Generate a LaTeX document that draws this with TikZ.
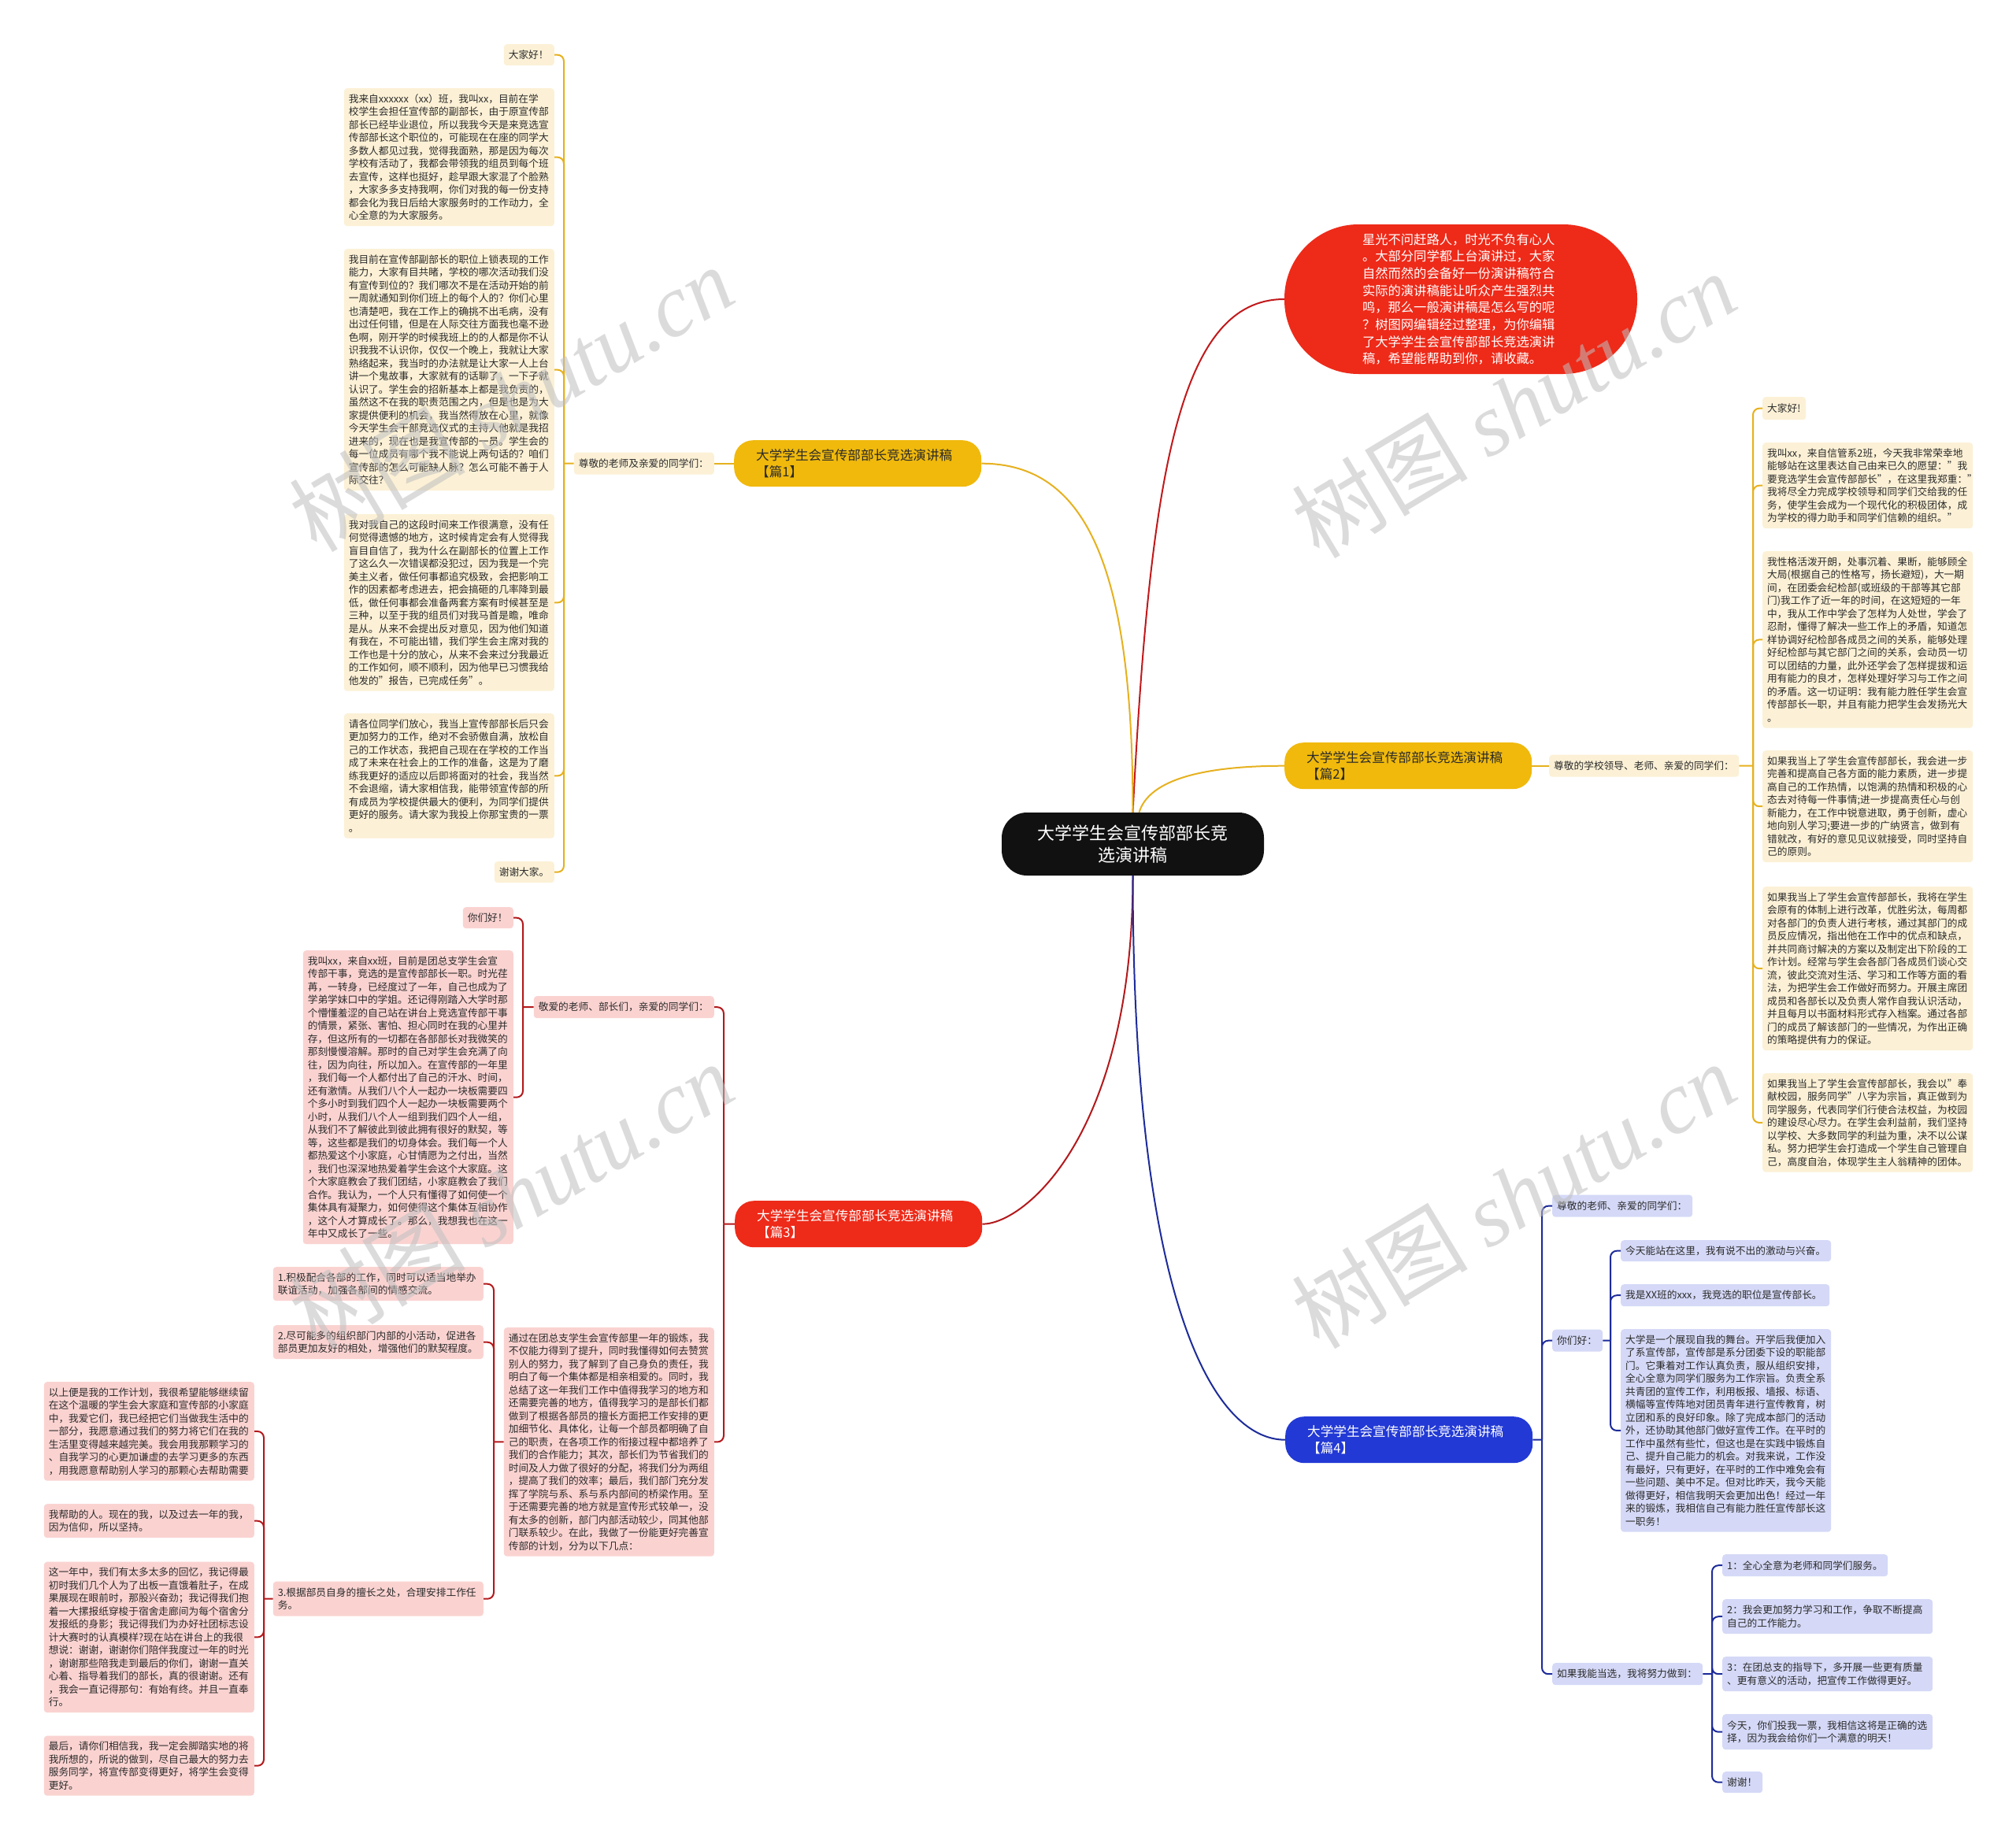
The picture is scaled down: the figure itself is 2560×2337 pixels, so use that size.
\documentclass[tikz,border=0pt]{standalone}
\usepackage{fontspec}
\setmainfont{Noto Sans CJK SC}
\newfontfamily\wmlatin{Liberation Serif}
\definecolor{txt}{HTML}{2B2B2B}
\definecolor{yN}{HTML}{F0B90C}
\definecolor{yL}{HTML}{E6B11F}
\definecolor{cream}{HTML}{FCF1D6}
\definecolor{rN}{HTML}{EE2A19}
\definecolor{rL}{HTML}{B3191C}
\definecolor{tL}{HTML}{C1191B}
\definecolor{pinkL}{HTML}{FAD3D1}
\definecolor{bN}{HTML}{2239D5}
\definecolor{bL}{HTML}{1D2C9A}
\definecolor{lavL}{HTML}{D5D9F7}
\definecolor{rootC}{HTML}{111111}
\begin{document}
\begin{tikzpicture}[x=1pt,y=-1pt,
  base/.style={inner xsep=6pt, inner ysep=1pt, align=left, font=\fontsize{12.7}{16.5}\selectfont, text=txt, rounded corners=4pt},
  cy/.style={base, fill=cream},
  cr/.style={base, fill=pinkL},
  cb/.style={base, fill=lavL},
  para/.style={text width=255pt},
  branch/.style={anchor=north west, rounded corners=24pt, minimum width=314pt, minimum height=59pt, text width=258pt, inner xsep=28pt, align=left, font=\fontsize{16.6}{21}\selectfont},
  ly/.style={draw=yL, line width=2pt},
  lr/.style={draw=rL, line width=2pt},
  lb/.style={draw=bL, line width=2pt},
  rc/.style={rounded corners=8pt},
  wm/.style={rotate=31, text=gray!50, opacity=0.55, font=\fontsize{112}{112}\selectfont}
]
\useasboundingbox (0,0) rectangle (2560,2337);
\fill[white] (0,0) rectangle (2560,2337);

% ---------- root and main branches ----------
\node[fill=rootC, text=white, rounded corners=32pt, minimum width=333pt, minimum height=80pt, align=center, font=\fontsize{22}{28.7}\selectfont] (root) at (1438.5,1072) {大学学生会宣传部部长竞\\选演讲稿};

\node[fill=rN, text=white, rounded corners=94pt, minimum width=448pt, minimum height=190pt, text width=250pt, align=left, font=\fontsize{16.3}{21.7}\selectfont] (T) at (1855,380) {星光不问赶路人，时光不负有心人\\。大部分同学都上台演讲过，大家\\自然而然的会备好一份演讲稿符合\\实际的演讲稿能让听众产生强烈共\\鸣，那么一般演讲稿是怎么写的呢\\？树图网编辑经过整理，为你编辑\\了大学学生会宣传部部长竞选演讲\\稿，希望能帮助到你，请收藏。};

\node[branch, fill=yN, text=txt] (B1) at (932,559) {大学学生会宣传部部长竞选演讲稿\\【篇1】};
\node[branch, fill=yN, text=txt] (B2) at (1631,943) {大学学生会宣传部部长竞选演讲稿\\【篇2】};
\node[branch, fill=rN, text=white] (B3) at (933,1525) {大学学生会宣传部部长竞选演讲稿\\【篇3】};
\node[branch, fill=bN, text=white] (B4) at (1632,1799) {大学学生会宣传部部长竞选演讲稿\\【篇4】};

\draw[draw=tL, line width=2pt] (root.north) .. controls +(22,-432) and +(-133,0) .. (T.west);
\draw[ly] (root.north) .. controls +(0,-312) and +(133,0) .. (B1.east);
\draw[ly] ([xshift=8pt]root.north) .. controls +(15,-50) and +(-75,0) .. (B2.west);
\draw[lr] (root.south) .. controls +(0,328) and +(54,0) .. (B3.east);
\draw[lb] (root.south) .. controls +(0,538) and +(-92,0) .. (B4.west);

% ---------- 篇1 ----------
\node[cy, anchor=north east, text width=166pt, minimum height=28pt] (L1) at (907,574.5) {尊敬的老师及亲爱的同学们：};
\node[cy, anchor=north east, text width=52pt, minimum height=27pt] (A0) at (704,56) {大家好！};
\node[cy, para, anchor=north east, minimum height=175pt] (A1) at (704,112) {我来自xxxxxx（xx）班，我叫xx，目前在学\\校学生会担任宣传部的副部长，由于原宣传部\\部长已经毕业退位，所以我我今天是来竞选宣\\传部部长这个职位的，可能现在在座的同学大\\多数人都见过我，觉得我面熟，那是因为每次\\学校有活动了，我都会带领我的组员到每个班\\去宣传，这样也挺好，趁早跟大家混了个脸熟\\，大家多多支持我啊，你们对我的每一份支持\\都会化为我日后给大家服务时的工作动力，全\\心全意的为大家服务。};
\node[cy, para, anchor=north east, minimum height=307pt] (A2) at (704,316) {我目前在宣传部副部长的职位上锁表现的工作\\能力，大家有目共睹，学校的哪次活动我们没\\有宣传到位的？我们哪次不是在活动开始的前\\一周就通知到你们班上的每个人的？你们心里\\也清楚吧，我在工作上的确挑不出毛病，没有\\出过任何错，但是在人际交往方面我也毫不逊\\色啊，刚开学的时候我班上的的人都是你不认\\识我我不认识你，仅仅一个晚上，我就让大家\\熟络起来，我当时的办法就是让大家一人上台\\讲一个鬼故事，大家就有的话聊了，一下子就\\认识了。学生会的招新基本上都是我负责的，\\虽然这不在我的职责范围之内，但是也是为大\\家提供便利的机会，我当然得放在心里，就像\\今天学生会干部竞选仪式的主持人他就是我招\\进来的，现在也是我宣传部的一员。学生会的\\每一位成员有哪个我不能说上两句话的？咱们\\宣传部的怎么可能缺人脉？怎么可能不善于人\\际交往？};
\node[cy, para, anchor=north east, minimum height=224.5pt] (A3) at (704,653) {我对我自己的这段时间来工作很满意，没有任\\何觉得遗憾的地方，这时候肯定会有人觉得我\\盲目自信了，我为什么在副部长的位置上工作\\了这么久一次错误都没犯过，因为我是一个完\\美主义者，做任何事都追究极致，会把影响工\\作的因素都考虑进去，把会搞砸的几率降到最\\低，做任何事都会准备两套方案有时候甚至是\\三种，以至于我的组员们对我马首是瞻，唯命\\是从。从来不会提出反对意见，因为他们知道\\有我在，不可能出错，我们学生会主席对我的\\工作也是十分的放心，从来不会来过分我最近\\的工作如何，顺不顺利，因为他早已习惯我给\\他发的"报告，已完成任务"。};
\node[cy, para, anchor=north east, minimum height=158.5pt] (A4) at (704,906) {请各位同学们放心，我当上宣传部部长后只会\\更加努力的工作，绝对不会骄傲自满，放松自\\己的工作状态，我把自己现在在学校的工作当\\成了未来在社会上的工作的准备，这是为了磨\\练我更好的适应以后即将面对的社会，我当然\\不会退缩，请大家相信我，能带领宣传部的所\\有成员为学校提供最大的便利，为同学们提供\\更好的服务。请大家为我投上你那宝贵的一票\\。};
\node[cy, anchor=north east, text width=64pt, minimum height=27pt] (A5) at (704,1094) {谢谢大家。};
\coordinate (s1) at (716,588.5);
\draw[ly] (B1.west) -- (L1.east);
\draw[ly] (L1.west) -- (s1);
\foreach \c in {A0,A1,A2,A3,A4,A5} \draw[ly, rc] (s1) |- (\c.east);

% ---------- 篇2 ----------
\node[cy, anchor=north west, text width=229pt, minimum height=28pt] (L2) at (1967,958.5) {尊敬的学校领导、老师、亲爱的同学们：};
\node[cy, anchor=north west, text width=43pt, minimum height=29pt] (E0) at (2238,504) {大家好!};
\node[cy, para, anchor=north west, minimum height=109pt] (E1) at (2238,562) {我叫xx，来自信管系2班，今天我非常荣幸地\\能够站在这里表达自己由来已久的愿望："我\\要竞选学生会宣传部部长"，在这里我郑重："\\我将尽全力完成学校领导和同学们交给我的任\\务，使学生会成为一个现代化的积极团体，成\\为学校的得力助手和同学们信赖的组织。"};
\node[cy, para, anchor=north west, minimum height=224.5pt] (E2) at (2238,700) {我性格活泼开朗，处事沉着、果断，能够顾全\\大局(根据自己的性格写，扬长避短)，大一期\\间，在团委会纪检部(或班级的干部等其它部\\门)我工作了近一年的时间，在这短短的一年\\中，我从工作中学会了怎样为人处世，学会了\\忍耐，懂得了解决一些工作上的矛盾，知道怎\\样协调好纪检部各成员之间的关系，能够处理\\好纪检部与其它部门之间的关系，会动员一切\\可以团结的力量，此外还学会了怎样提拔和运\\用有能力的良才，怎样处理好学习与工作之间\\的矛盾。这一切证明：我有能力胜任学生会宣\\传部部长一职，并且有能力把学生会发扬光大\\。};
\node[cy, para, anchor=north west, minimum height=142pt] (E3) at (2238,953) {如果我当上了学生会宣传部部长，我会进一步\\完善和提高自己各方面的能力素质，进一步提\\高自己的工作热情，以饱满的热情和积极的心\\态去对待每一件事情;进一步提高责任心与创\\新能力，在工作中锐意进取，勇于创新，虚心\\地向别人学习;要进一步的广纳贤言，做到有\\错就改，有好的意见见议就接受，同时坚持自\\己的原则。};
\node[cy, para, anchor=north west, minimum height=208pt] (E4) at (2238,1126) {如果我当上了学生会宣传部部长，我将在学生\\会原有的体制上进行改革，优胜劣汰，每周都\\对各部门的负责人进行考核，通过其部门的成\\员反应情况，指出他在工作中的优点和缺点，\\并共同商讨解决的方案以及制定出下阶段的工\\作计划。经常与学生会各部门各成员们谈心交\\流，彼此交流对生活、学习和工作等方面的看\\法，为把学生会工作做好而努力。开展主席团\\成员和各部长以及负责人常作自我认识活动，\\并且每月以书面材料形式存入档案。通过各部\\门的成员了解该部门的一些情况，为作出正确\\的策略提供有力的保证。};
\node[cy, para, anchor=north west, minimum height=125.5pt] (E5) at (2238,1363) {如果我当上了学生会宣传部部长，我会以"奉\\献校园，服务同学"八字为宗旨，真正做到为\\同学服务，代表同学们行使合法权益，为校园\\的建设尽心尽力。在学生会利益前，我们坚持\\以学校、大多数同学的利益为重，决不以公谋\\私。努力把学生会打造成一个学生自己管理自\\己，高度自治，体现学生主人翁精神的团体。};
\coordinate (s2) at (2226,972.5);
\draw[ly] (B2.east) -- (L2.west);
\draw[ly] (L2.east) -- (s2);
\foreach \c in {E0,E1,E2,E3,E4,E5} \draw[ly, rc] (s2) |- (\c.west);

% ---------- 篇3 ----------
\node[cr, anchor=north east, text width=217pt, minimum height=28pt] (L3) at (907,1265) {敬爱的老师、部长们，亲爱的同学们：};
\node[cr, anchor=north east, text width=52pt, minimum height=27pt] (F0) at (652,1152) {你们好！};
\node[cr, para, anchor=north east, minimum height=373pt] (F1) at (652,1207) {我叫xx，来自xx班，目前是团总支学生会宣\\传部干事，竞选的是宣传部部长一职。时光荏\\苒，一转身，已经度过了一年，自己也成为了\\学弟学妹口中的学姐。还记得刚踏入大学时那\\个懵懂羞涩的自己站在讲台上竞选宣传部干事\\的情景，紧张、害怕、担心同时在我的心里并\\存，但这所有的一切都在各部部长对我微笑的\\那刻慢慢溶解。那时的自己对学生会充满了向\\往，因为向往，所以加入。在宣传部的一年里\\，我们每一个人都付出了自己的汗水、时间，\\还有激情。从我们八个人一起办一块板需要四\\个多小时到我们四个人一起办一块板需要两个\\小时，从我们八个人一组到我们四个人一组，\\从我们不了解彼此到彼此拥有很好的默契，等\\等，这些都是我们的切身体会。我们每一个人\\都热爱这个小家庭，心甘情愿为之付出，当然\\，我们也深深地热爱着学生会这个大家庭。这\\个大家庭教会了我们团结，小家庭教会了我们\\合作。我认为，一个人只有懂得了如何使一个\\集体具有凝聚力，如何使得这个集体互相协作\\，这个人才算成长了。那么，我想我也在这一\\年中又成长了一些。};
\node[cr, para, anchor=north east, minimum height=290.5pt] (PB) at (907,1686) {通过在团总支学生会宣传部里一年的锻炼，我\\不仅能力得到了提升，同时我懂得如何去赞赏\\别人的努力，我了解到了自己身负的责任，我\\明白了每一个集体都是相亲相爱的。同时，我\\总结了这一年我们工作中值得我学习的地方和\\还需要完善的地方，值得我学习的是部长们都\\做到了根据各部员的擅长方面把工作安排的更\\加细节化、具体化，让每一个部员都明确了自\\己的职责，在各项工作的衔接过程中都培养了\\我们的合作能力；其次，部长们为节省我们的\\时间及人力做了很好的分配，将我们分为两组\\，提高了我们的效率；最后，我们部门充分发\\挥了学院与系、系与系内部间的桥梁作用。至\\于还需要完善的地方就是宣传形式较单一，没\\有太多的创新，部门内部活动较少，同其他部\\门联系较少。在此，我做了一份能更好完善宣\\传部的计划，分为以下几点：};
\node[cr, para, anchor=north east, minimum height=43pt] (G1) at (614,1609) {1.积极配合各部的工作，同时可以适当地举办\\联谊活动，加强各部间的情感交流。};
\node[cr, para, anchor=north east, minimum height=43pt] (G2) at (614,1683) {2.尽可能多的组织部门内部的小活动，促进各\\部员更加友好的相处，增强他们的默契程度。};
\node[cr, para, anchor=north east, minimum height=44pt] (G3) at (614,2008.5) {3.根据部员自身的擅长之处，合理安排工作任\\务。};
\node[cr, para, anchor=north east, minimum height=125.5pt] (H1) at (323,1755) {以上便是我的工作计划，我很希望能够继续留\\在这个温暖的学生会大家庭和宣传部的小家庭\\中，我爱它们，我已经把它们当做我生活中的\\一部分，我愿意通过我们的努力将它们在我的\\生活里变得越来越完美。我会用我那颗学习的\\、自我学习的心更加谦虚的去学习更多的东西\\，用我愿意帮助别人学习的那颗心去帮助需要};
\node[cr, para, anchor=north east, minimum height=43pt] (H2) at (323,1910) {我帮助的人。现在的我，以及过去一年的我，\\因为信仰，所以坚持。};
\node[cr, para, anchor=north east, minimum height=191.5pt] (H3) at (323,1983.5) {这一年中，我们有太多太多的回忆，我记得最\\初时我们几个人为了出板一直饿着肚子，在成\\果展现在眼前时，那股兴奋劲；我记得我们抱\\着一大摞报纸穿梭于宿舍走廊间为每个宿舍分\\发报纸的身影；我记得我们为办好社团标志设\\计大赛时的认真模样?现在站在讲台上的我很\\想说：谢谢，谢谢你们陪伴我度过一年的时光\\，谢谢那些陪我走到最后的你们，谢谢一直关\\心着、指导着我们的部长，真的很谢谢。还有\\，我会一直记得那句：有始有终。并且一直奉\\行。};
\node[cr, para, anchor=north east, minimum height=76pt] (H4) at (323,2204.5) {最后，请你们相信我，我一定会脚踏实地的将\\我所想的，所说的做到，尽自己最大的努力去\\服务同学，将宣传部变得更好，将学生会变得\\更好。};
\coordinate (s3) at (919,1554.5);
\coordinate (s3b) at (664,1279);
\coordinate (s3c) at (627,1831.25);
\coordinate (s3d) at (335,2030.5);
\draw[lr] (B3.west) -- (s3);
\foreach \c in {L3,PB} \draw[lr, rc] (s3) |- (\c.east);
\draw[lr] (L3.west) -- (s3b);
\foreach \c in {F0,F1} \draw[lr, rc] (s3b) |- (\c.east);
\draw[lr] (PB.west) -- (s3c);
\foreach \c in {G1,G2,G3} \draw[lr, rc] (s3c) |- (\c.east);
\draw[lr] (G3.west) -- (s3d);
\foreach \c in {H1,H2,H3,H4} \draw[lr, rc] (s3d) |- (\c.east);

% ---------- 篇4 ----------
\node[cb, anchor=north west, text width=166pt, minimum height=28pt] (K1) at (1971,1517.5) {尊敬的老师、亲爱的同学们：};
\node[cb, anchor=north west, text width=52pt, minimum height=28pt] (K2) at (1971,1688.5) {你们好：};
\node[cb, anchor=north west, text width=179pt, minimum height=28pt] (K3) at (1971,2112) {如果我能当选，我将努力做到：};
\node[cb, para, anchor=north west, minimum height=27pt] (M1) at (2058,1575) {今天能站在这里，我有说不出的激动与兴奋。};
\node[cb, anchor=north west, text width=253pt, minimum height=28pt] (M2) at (2058,1631) {我是XX班的xxx，我竞选的职位是宣传部长。};
\node[cb, para, anchor=north west, minimum height=257.5pt] (M3) at (2058,1688) {大学是一个展现自我的舞台。开学后我便加入\\了系宣传部，宣传部是系分团委下设的职能部\\门。它秉着对工作认真负责，服从组织安排，\\全心全意为同学们服务为工作宗旨。负责全系\\共青团的宣传工作，利用板报、墙报、标语、\\横幅等宣传阵地对团员青年进行宣传教育，树\\立团和系的良好印象。除了完成本部门的活动\\外，还协助其他部门做好宣传工作。在平时的\\工作中虽然有些忙，但这也是在实践中锻炼自\\己、提升自己能力的机会。对我来说，工作没\\有最好，只有更好，在平时的工作中难免会有\\一些问题、美中不足。但对比昨天，我今天能\\做得更好，相信我明天会更加出色！经过一年\\来的锻炼，我相信自己有能力胜任宣传部长这\\一职务！};
\node[cb, anchor=north west, text width=198pt, minimum height=28pt] (N1) at (2187,1974) {1：全心全意为老师和同学们服务。};
\node[cb, para, anchor=north west, minimum height=44pt] (N2) at (2187,2031) {2：我会更加努力学习和工作，争取不断提高\\自己的工作能力。};
\node[cb, para, anchor=north west, minimum height=44pt] (N3) at (2187,2104) {3：在团总支的指导下，多开展一些更有质量\\、更有意义的活动，把宣传工作做得更好。};
\node[cb, para, anchor=north west, minimum height=45pt] (N4) at (2187,2177) {今天，你们投我一票，我相信这将是正确的选\\择，因为我会给你们一个满意的明天！};
\node[cb, anchor=north west, text width=39pt, minimum height=27pt] (N5) at (2187,2250) {谢谢！};
\coordinate (s4) at (1958,1828.5);
\coordinate (s4b) at (2045,1702.5);
\coordinate (s4c) at (2174,2126);
\draw[lb] (B4.east) -- (s4);
\foreach \c in {K1,K2,K3} \draw[lb, rc] (s4) |- (\c.west);
\draw[lb] (K2.east) -- (s4b);
\foreach \c in {M1,M2,M3} \draw[lb, rc] (s4b) |- (\c.west);
\draw[lb] (K3.east) -- (s4c);
\foreach \c in {N1,N2,N3,N4,N5} \draw[lb, rc] (s4c) |- (\c.west);

% ---------- watermarks ----------
\node[wm] (wm1) at (649,506) {树图 {\wmlatin\itshape shutu.cn}};
\node[wm] (wm2) at (1922,514) {树图 {\wmlatin\itshape shutu.cn}};
\node[wm] (wm3) at (649,1518) {树图 {\wmlatin\itshape shutu.cn}};
\node[wm] (wm4) at (1922,1518) {树图 {\wmlatin\itshape shutu.cn}};
\end{tikzpicture}
\end{document}
